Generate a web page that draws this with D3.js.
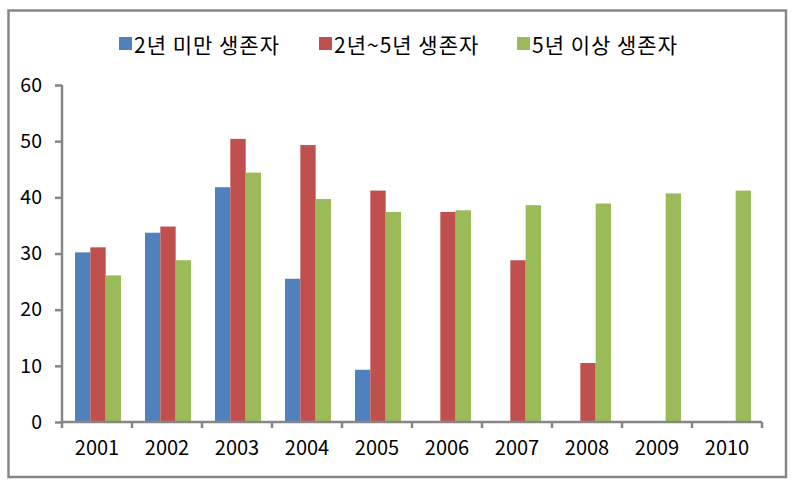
<!DOCTYPE html>
<html><head><meta charset="utf-8">
<script src="https://cdn.jsdelivr.net/npm/d3@7/dist/d3.min.js"></script>
<style>html,body{margin:0;padding:0;background:#fff;}svg{display:block;}</style>
</head><body>
<svg id="chart" width="798" height="483"></svg>
<script>
const years = ["2001","2002","2003","2004","2005","2006","2007","2008","2009","2010"];
const seriesNames = ["2년 미만 생존자","2년~5년 생존자","5년 이상 생존자"];
const seriesColors = ["#4F81BD","#C0504D","#9BBB59"];
const under2 = [30.2, 33.7, 41.8, 25.5, 9.3, null, null, null, null, null];
const from2to5 = [31.1, 34.8, 50.4, 49.3, 41.2, 37.4, 28.8, 10.5, null, null];
const over5 = [26.1, 28.8, 44.4, 39.7, 37.4, 37.7, 38.6, 38.9, 40.7, 41.2];
const yTicks = [0, 10, 20, 30, 40, 50, 60];

const seriesValues = [under2, from2to5, over5];
const svg = d3.select("#chart");
const font = "'Noto Sans CJK KR','Noto Sans',sans-serif";
const axisColor = "#868686";

// outer border
svg.append("rect").attr("x", 8.5).attr("y", 10.5).attr("width", 777.5).attr("height", 466.5)
  .attr("fill", "#fff").attr("stroke", axisColor).attr("stroke-width", 2.5);

const x = d3.scaleBand().domain(years).range([62, 762]).padding(0);
const xs = d3.scaleBand().domain(d3.range(3)).range([13, 59]).padding(0);
const y = d3.scaleLinear().domain([0, 60]).range([422, 85]);

// bars
seriesValues.forEach((vals, si) => {
  svg.append("g").selectAll("rect")
    .data(years.map((yr, i) => ({yr, v: vals[i]})).filter(d => d.v != null))
    .join("rect")
    .attr("x", d => x(d.yr) + xs(si))
    .attr("width", xs.bandwidth())
    .attr("y", d => y(d.v))
    .attr("height", d => y(0) - y(d.v))
    .attr("fill", seriesColors[si]);
});

// y axis
const yAxis = svg.append("g").attr("transform", "translate(62,0)")
  .call(d3.axisLeft(y).tickValues(yTicks).tickSize(7).tickPadding(13).tickFormat(d3.format("d")));
yAxis.select(".domain").attr("stroke", axisColor).attr("stroke-width", 2.5).attr("d", "M0,85V422");
yAxis.selectAll(".tick line").attr("stroke", axisColor).attr("stroke-width", 2.5);
yAxis.selectAll(".tick text").attr("font-family", font).attr("font-size", 19.5).attr("fill", "#000");

// x axis
const xAxis = svg.append("g").attr("transform", "translate(0,422)")
  .call(d3.axisBottom(x).tickSize(0).tickPadding(19));
xAxis.select(".domain").attr("stroke", axisColor).attr("stroke-width", 2.5).attr("d", "M62,0H762");
xAxis.selectAll(".tick text").attr("font-family", font).attr("font-size", 20).attr("fill", "#000");
// category boundary ticks
const bounds = years.map(yr => x(yr)).concat([x.range()[1]]);
xAxis.append("g").selectAll("line").data(bounds).join("line")
  .attr("x1", d => d).attr("x2", d => d).attr("y1", 0).attr("y2", 6)
  .attr("stroke", axisColor).attr("stroke-width", 2.5);

// legend
const legendX = [119, 319, 517];
const legend = svg.append("g");
seriesNames.forEach((name, i) => {
  legend.append("rect").attr("x", legendX[i]).attr("y", 37).attr("width", 13).attr("height", 13)
    .attr("fill", seriesColors[i]);
  legend.append("text").attr("x", legendX[i] + 15).attr("y", 43.5)
    .attr("dominant-baseline", "central").attr("letter-spacing", 1)
    .attr("font-family", font).attr("font-size", 21).attr("fill", "#000").text(name);
});
</script>
</body></html>
